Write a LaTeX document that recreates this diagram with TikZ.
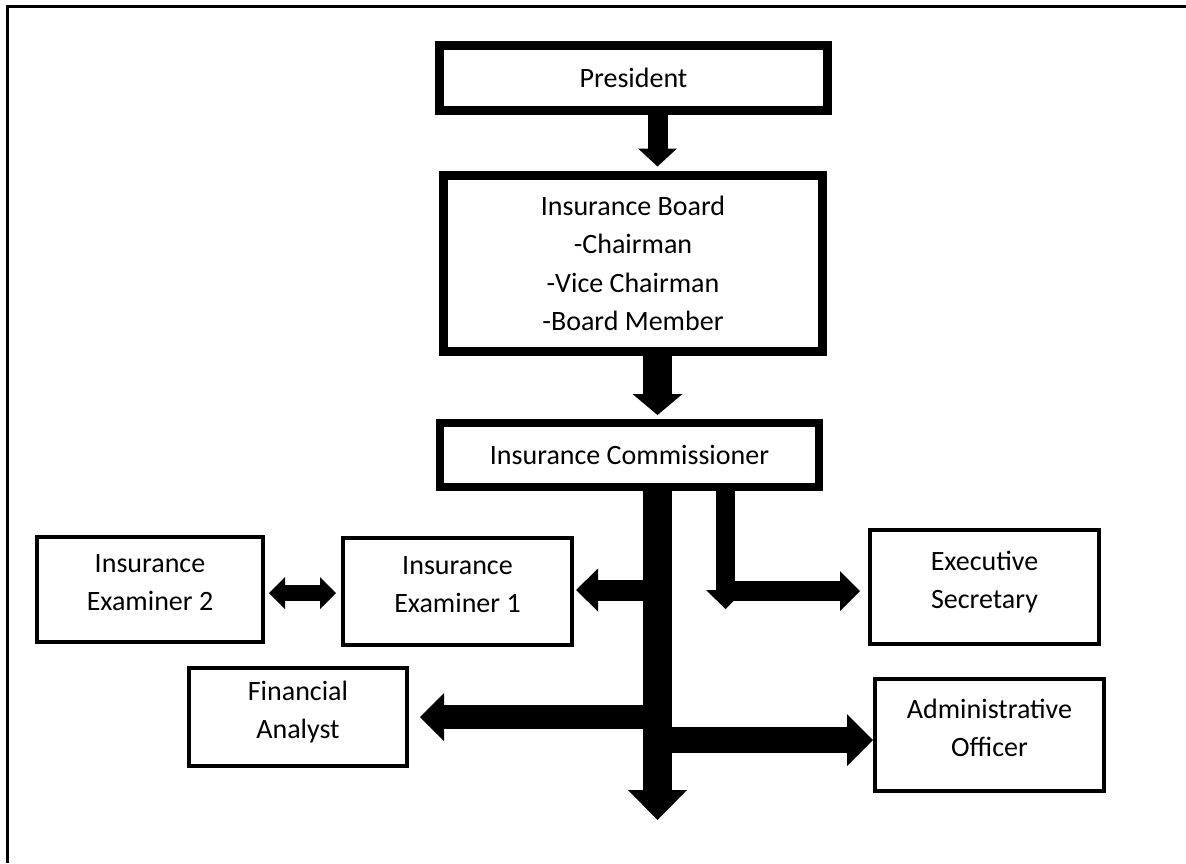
\documentclass[tikz,border=0pt]{standalone}
\usepackage{fontspec}
\setmainfont{Carlito}
\usetikzlibrary{arrows.meta}

\tikzset{
  box/.style={draw, line width=4pt, align=center, inner sep=0pt,
    font=\fontsize{28}{38.5}\selectfont},
  smallbox/.style={box, text depth=14pt},
  mainbox/.style={box, line width=9pt},
  flow/.style n args={3}{line width=#1,
    -{Triangle[width=#2, length=#3, line width=0pt]}},
  twoway/.style n args={3}{line width=#1,
    {Triangle[width=#2, length=#3, line width=0pt]}-{Triangle[width=#2, length=#3, line width=0pt]}}
}

\begin{document}
\begin{tikzpicture}[x=1pt, y=-1pt]
  \useasboundingbox (0,0) rectangle (1186,863);
  \draw[line width=2.5pt] (7.5,863) -- (7.5,6.5) -- (1186,6.5);

  % boxes
  \node[mainbox, minimum width=388pt, minimum height=65pt] (pres) at (633.5,78) {President};
  \node[mainbox, minimum width=379pt, minimum height=176pt] (board) at (633,263.5)
    {Insurance Board\\-Chairman\\-Vice Chairman\\-Board Member};
  \node[mainbox, line width=8pt, minimum width=379pt, minimum height=64pt] (comm) at (629.5,455)
    {Insurance Commissioner};
  \node[smallbox, minimum width=226pt, minimum height=105pt] (exam2) at (150,589.5) {Insurance\\Examiner 2};
  \node[smallbox, minimum width=229pt, minimum height=107pt] (exam1) at (457.5,591.5) {Insurance\\Examiner 1};
  \node[smallbox, minimum width=229pt, minimum height=114pt] (secr) at (984.5,587) {Executive\\Secretary};
  \node[smallbox, minimum width=218pt, minimum height=98pt] (fin) at (298,717) {Financial\\Analyst};
  \node[smallbox, minimum width=229pt, minimum height=112pt] (admin) at (989.5,735) {Administrative\\Officer};

  % helper points
  \coordinate (spine) at (657.5,0);
  \coordinate (side) at (725.5,0);
  \coordinate (trunkend) at (657.5,820);
  \coordinate (sideend) at (725.5,609);
  \coordinate (bend) at (725.5,591);
  \coordinate (row0) at (0,593);
  \coordinate (row1) at (0,590);
  \coordinate (row2) at (0,717);
  \coordinate (row3) at (0,740);

  % arrows
  \draw[flow={20pt}{39pt}{18pt}, shorten >=4.5pt] (pres.south -| spine) -- (board.north -| spine);
  \draw[flow={29pt}{50pt}{21pt}, shorten >=4pt] (board.south -| spine) -- (comm.north -| spine);
  \draw[flow={29pt}{59pt}{30pt}] (comm.south -| spine) -- (trunkend);
  \draw[flow={19pt}{39pt}{19pt}] (comm.south -| side) -- (sideend);
  \draw[flow={20pt}{40pt}{20pt}, shorten >=8pt] (bend) -- (bend -| secr.west);
  \draw[flow={21pt}{43pt}{22pt}, shorten >=2pt] (spine |- row1) -- (exam1.east |- row1);
  \draw[flow={24pt}{48pt}{24pt}, shorten >=11pt] (spine |- row2) -- (fin.east |- row2);
  \draw[flow={26pt}{52pt}{26pt}] (spine |- row3) -- (admin.west |- row3);
  \draw[twoway={16pt}{32pt}{16pt}, shorten <=4pt, shorten >=5pt] (exam2.east |- row0) -- (exam1.west |- row0);
\end{tikzpicture}
\end{document}
